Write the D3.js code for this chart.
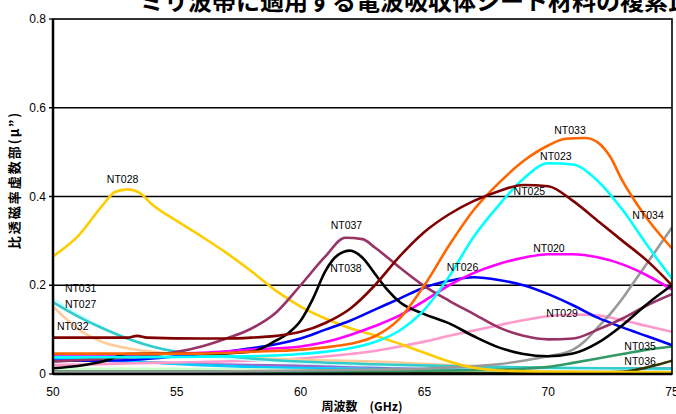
<!DOCTYPE html>
<html>
<head>
<meta charset="utf-8">
<script src="https://cdn.jsdelivr.net/npm/d3@7"></script>
<style>
  html, body { margin: 0; padding: 0; background: #fff; }
  svg { display: block; font-family: "Liberation Sans", Arial, sans-serif; }
  .tick-lbl { font-size: 12px; fill: #000; }
  .ser-lbl { font-size: 10.5px; fill: #000; }
  .ttl { font-family: "Noto Sans CJK JP", sans-serif; font-weight: bold; fill: #000; }
</style>
</head>
<body>
<svg id="chart" width="676" height="414"></svg>
<script>
// ── Data (frequency GHz, imaginary relative permeability μ") ─────────────────
const xTicks = [50, 55, 60, 65, 70, 75];
const yTicks = [0, 0.2, 0.4, 0.6, 0.8];
const yTickLabels = ["0", "0.2", "0.4", "0.6", "0.8"];

const nt020 = [[50,0.04],[52,0.042],[54,0.045],[56,0.048],[58,0.055],[60,0.062],[61,0.072],[62,0.088],[63,0.108],[64,0.132],[65,0.165],[66,0.2],[67,0.228],[68,0.248],[69,0.262],[70,0.27],[71,0.27],[72,0.263],[73,0.247],[74,0.222],[75,0.19]];
const nt021 = [[50,0.032],[52,0.03],[54,0.026],[56,0.022],[58,0.02],[62,0.017],[66,0.015],[70,0.013],[75,0.012]];
const nt023 = [[50,0.038],[54,0.038],[58,0.04],[60,0.045],[62,0.058],[63,0.072],[64,0.098],[65,0.145],[66,0.22],[67,0.31],[68,0.38],[69,0.44],[70,0.475],[71,0.472],[72,0.435],[73,0.37],[74,0.29],[75,0.215]];
const nt024 = [[50,0.036],[52,0.032],[54,0.026],[56,0.02],[58,0.016],[62,0.012],[66,0.01],[70,0.008],[75,0.007]];
const nt025 = [[50,0.082],[53,0.082],[53.4,0.086],[53.8,0.082],[56,0.08],[57,0.08],[58,0.082],[59,0.086],[60,0.095],[61,0.115],[62,0.147],[63,0.2],[64,0.265],[65,0.32],[66,0.36],[67,0.39],[68,0.412],[69,0.426],[70,0.423],[71,0.39],[72,0.345],[73,0.3],[74,0.255],[75,0.2]];
const nt026 = [[50,0.03],[52,0.03],[54,0.035],[55,0.04],[56,0.045],[57,0.05],[58,0.058],[59,0.067],[60,0.08],[61,0.1],[62,0.12],[63,0.145],[64,0.17],[65,0.195],[66,0.21],[67,0.218],[68,0.212],[69,0.2],[70,0.18],[71,0.155],[72,0.127],[73,0.105],[74,0.085],[75,0.065]];
const nt027 = [[50,0.162],[51,0.13],[52,0.103],[53,0.08],[54,0.062],[55,0.05],[56,0.045],[58,0.035],[60,0.028],[63,0.022],[66,0.018],[70,0.014],[75,0.012]];
const nt028 = [[50,0.265],[51,0.31],[52,0.38],[52.5,0.41],[53,0.416],[53.5,0.408],[54,0.382],[55,0.345],[56,0.31],[57,0.273],[58,0.232],[59,0.188],[60,0.152],[61,0.125],[62,0.103],[63,0.087],[64,0.068],[65,0.048],[66,0.028],[67,0.014],[68,0.008],[70,0.005],[75,0.004]];
const nt029 = [[50,0.02],[52,0.022],[54,0.025],[56,0.027],[58,0.03],[60,0.035],[62,0.045],[63,0.052],[64,0.062],[65,0.073],[66,0.086],[67,0.098],[68,0.11],[69,0.121],[70,0.13],[71,0.134],[72,0.132],[73,0.121],[74,0.108],[75,0.095]];
const nt030 = [[50,0.012],[54,0.012],[58,0.01],[62,0.008],[66,0.007],[70,0.006],[75,0.006]];
const nt031 = [[50,0.17],[51,0.135],[52,0.105],[53,0.08],[54,0.062],[55,0.05],[56,0.042],[58,0.032],[60,0.025],[64,0.018],[70,0.012],[75,0.01]];
const nt032 = [[50,0.152],[51,0.102],[52,0.072],[53,0.058],[54,0.05],[56,0.042],[58,0.036],[60,0.032],[63,0.028],[66,0.02],[69,0.012],[72,0.008],[75,0.006]];
const nt033 = [[50,0.046],[54,0.046],[56,0.046],[58,0.05],[60,0.055],[61,0.06],[62,0.068],[63,0.085],[64,0.125],[65,0.2],[66,0.29],[67,0.37],[68,0.43],[69,0.48],[70,0.515],[70.7,0.53],[71.5,0.532],[72,0.522],[72.5,0.49],[73,0.435],[73.5,0.39],[74,0.35],[74.5,0.315],[75,0.283]];
const nt034 = [[50,0.005],[55,0.005],[60,0.008],[63,0.01],[65,0.012],[66,0.015],[67,0.018],[68,0.022],[69,0.03],[70,0.04],[71,0.055],[71.5,0.075],[72,0.105],[72.5,0.135],[73,0.17],[73.5,0.21],[74,0.25],[74.5,0.29],[75,0.33]];
const nt035 = [[50,0.006],[60,0.006],[64,0.007],[66,0.008],[68,0.01],[69,0.012],[70,0.016],[71,0.025],[72,0.035],[73,0.045],[74,0.055],[75,0.062]];
const nt036 = [[50,0.002],[60,0.002],[68,0.002],[72,0.003],[73,0.005],[73.5,0.009],[74,0.015],[74.5,0.022],[75,0.03]];
const nt037 = [[50,0.028],[52,0.034],[54,0.042],[55,0.05],[56,0.062],[57,0.08],[58,0.102],[59,0.138],[60,0.2],[61,0.265],[61.8,0.307],[62.5,0.304],[63,0.285],[64,0.24],[65,0.198],[66,0.165],[67,0.135],[68,0.105],[69,0.086],[70,0.078],[71,0.08],[72,0.1],[73,0.125],[74,0.155],[75,0.18]];
const nt038 = [[50,0.013],[51,0.018],[52,0.028],[53,0.045],[54,0.046],[56,0.045],[58,0.05],[59,0.075],[59.5,0.092],[60,0.12],[60.5,0.17],[61,0.232],[61.5,0.268],[62,0.278],[62.5,0.262],[63,0.226],[63.5,0.19],[64,0.162],[65,0.135],[66,0.114],[67,0.085],[68,0.06],[69,0.045],[70,0.04],[71,0.046],[72,0.07],[73,0.11],[74,0.158],[75,0.2]];

const seriesNames  = ["NT021","NT024","NT030","NT029","NT032","NT031","NT027","NT036","NT035","NT034","NT028","NT026","NT020","NT037","NT038","NT023","NT033","NT025"];
const seriesData   = [nt021, nt024, nt030, nt029, nt032, nt031, nt027, nt036, nt035, nt034, nt028, nt026, nt020, nt037, nt038, nt023, nt033, nt025];
const seriesColors = ["#9966cc","#00ccff","#ccffcc","#ff99cc","#ffcc99","#ccffff","#33cccc","#333300","#339966","#999999","#ffcc00","#0000ff","#ff00ff","#993366","#000000","#00ffff","#ff6600","#800000"];

// label anchors: [name, freq, value, anchor]
const labelNames   = ["NT028","NT031","NT027","NT032","NT037","NT038","NT026","NT033","NT023","NT025","NT034","NT020","NT029","NT035","NT036"];
const labelFreq    = [52.81, 50.48, 50.48, 50.16, 61.85, 61.83, 66.54, 70.88, 70.31, 69.24, 74.03, 70.03, 70.56, 73.71, 73.71];
const labelValue   = [0.430, 0.185, 0.149, 0.099, 0.327, 0.230, 0.232, 0.5415, 0.482, 0.404, 0.349, 0.276, 0.129, 0.055, 0.020];
const labelAnchor  = ["middle","start","start","start","middle","middle","middle","middle","middle","middle","middle","middle","middle","middle","middle"];

// ── Layout ───────────────────────────────────────────────────────────────────
const W = 676, H = 414;
const M = { left: 53, right: 4, top: 19, bottom: 40 };
const svg = d3.select("#chart");

const x = d3.scaleLinear().domain([50, 75]).range([M.left, W - M.right]);
const y = d3.scaleLinear().domain([0, 0.8]).range([H - M.bottom, M.top]);

// ── Title (cut off at the top edge) ──────────────────────────────────────────
svg.append("text").attr("class", "ttl")
  .attr("x", 140).attr("y", 10)
  .style("font-size", "24px")
  .text("ミリ波帯に適用する電波吸収体シート材料の複素比透磁率");

// ── Gridlines ────────────────────────────────────────────────────────────────
svg.append("g")
  .selectAll("line")
  .data(yTicks.filter(d => d > 0 && d < 0.8))
  .join("line")
  .attr("x1", x(50) - 4).attr("x2", x(75))
  .attr("y1", d => y(d)).attr("y2", d => y(d))
  .attr("stroke", "#000").attr("stroke-width", 1.3);

// ── Series lines ─────────────────────────────────────────────────────────────
svg.append("defs").append("clipPath").attr("id", "plot-clip")
  .append("rect")
  .attr("x", x(50)).attr("y", y(0.8))
  .attr("width", x(75) - x(50)).attr("height", y(0) - y(0.8));

const line = d3.line()
  .x(d => x(d[0]))
  .y(d => y(d[1]))
  .curve(d3.curveMonotoneX);

svg.append("g").attr("clip-path", "url(#plot-clip)")
  .selectAll("path")
  .data(seriesData)
  .join("path")
  .attr("d", line)
  .attr("fill", "none")
  .attr("stroke", (_d, i) => seriesColors[i])
  .attr("stroke-width", 2.6)
  .attr("stroke-linejoin", "round");

// ── Frame ────────────────────────────────────────────────────────────────────
svg.append("rect")
  .attr("x", x(50)).attr("y", y(0.8))
  .attr("width", x(75) - x(50)).attr("height", y(0) - y(0.8))
  .attr("fill", "none").attr("stroke", "#000").attr("stroke-width", 1.6);
svg.append("line")
  .attr("x1", x(50)).attr("x2", x(50))
  .attr("y1", y(0.8)).attr("y2", y(0))
  .attr("stroke", "#000").attr("stroke-width", 2.5);
svg.append("line")
  .attr("x1", x(50)).attr("x2", x(75))
  .attr("y1", y(0)).attr("y2", y(0))
  .attr("stroke", "#000").attr("stroke-width", 2.5);
svg.append("g")
  .selectAll("line")
  .data([0, 0.8])
  .join("line")
  .attr("x1", x(50) - 4).attr("x2", x(50))
  .attr("y1", d => y(d)).attr("y2", d => y(d))
  .attr("stroke", "#000").attr("stroke-width", 1.3);

// ── Tick labels ──────────────────────────────────────────────────────────────
svg.append("g")
  .selectAll("text")
  .data(yTicks)
  .join("text")
  .attr("class", "tick-lbl")
  .attr("x", x(50) - 7)
  .attr("y", d => y(d) + 4)
  .attr("text-anchor", "end")
  .text((_d, i) => yTickLabels[i]);

svg.append("g")
  .selectAll("text")
  .data(xTicks)
  .join("text")
  .attr("class", "tick-lbl")
  .attr("x", d => x(d))
  .attr("y", y(0) + 22)
  .attr("text-anchor", "middle")
  .text(d => d);

// ── Axis titles ──────────────────────────────────────────────────────────────
svg.append("text").attr("class", "ttl")
  .attr("x", 362).attr("y", 411)
  .attr("text-anchor", "middle")
  .style("font-size", "12px")
  .text("周波数　(GHz)");

svg.append("text").attr("class", "ttl")
  .attr("transform", `translate(19,${180}) rotate(-90)`)
  .attr("text-anchor", "middle")
  .style("font-size", "13px")
  .style("letter-spacing", "2px")
  .text("比透磁率虚数部(μ”)");

// ── Series labels ────────────────────────────────────────────────────────────
svg.append("g")
  .selectAll("text")
  .data(labelNames)
  .join("text")
  .attr("class", "ser-lbl")
  .attr("x", (_d, i) => x(labelFreq[i]))
  .attr("y", (_d, i) => y(labelValue[i]))
  .attr("text-anchor", (_d, i) => labelAnchor[i])
  .text(d => d);
</script>
</body>
</html>
